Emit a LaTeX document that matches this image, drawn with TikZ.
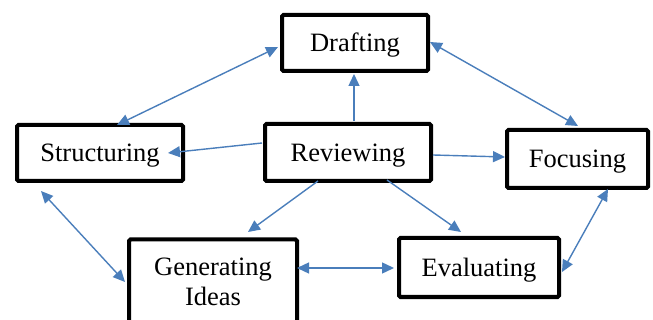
\documentclass[tikz,border=0pt]{standalone}
\usepackage{fontspec}
\setmainfont{Liberation Serif}
\usetikzlibrary{arrows.meta}
\definecolor{arrblue}{HTML}{4A7EBB}
\begin{document}
\begin{tikzpicture}[x=1pt,y=-1pt,
  stagebox/.style={draw=black, line width=4pt, rounded corners=1.5pt, fill=white,
    inner sep=0pt, font=\fontsize{26.5}{30}\selectfont, align=center},
  oneline/.style={text height=18pt, text depth=0pt},
  link/.style={draw=arrblue, line width=1.4pt, -{Triangle[length=12pt,width=11pt]}},
  dlink/.style={draw=arrblue, line width=1.4pt, {Triangle[length=12pt,width=11pt]}-{Triangle[length=12pt,width=11pt]}}]
\useasboundingbox (0,0) rectangle (653,320);
\clip (0,0) rectangle (653,320);
\node[stagebox, oneline, minimum width=146pt, minimum height=56pt] (draft) at (355,43) {Drafting};
\node[stagebox, oneline, minimum width=166pt, minimum height=56pt] (struct) at (100,153) {Structuring};
\node[stagebox, oneline, minimum width=166pt, minimum height=57pt] (review) at (348,152.5) {Reviewing};
\node[stagebox, oneline, minimum width=141pt, minimum height=58pt] (focus) at (577.5,159) {Focusing};
\node[stagebox, minimum width=168pt, minimum height=84pt] (gen) at (213,281.5) {Generating\\Ideas};
\node[stagebox, oneline, minimum width=160pt, minimum height=59pt] (eval) at (479,267.5) {Evaluating};
% double arrows
\draw[dlink] ([shift={(-77,4)}]draft.center) -- ([shift={(17,-28)}]struct.center);
\draw[dlink] ([shift={(75,-1)}]draft.center) -- ([shift={(0.5,-33)}]focus.center);
\draw[dlink] ([shift={(-59,38)}]struct.center) -- ([shift={(-88,0.5)}]gen.center);
\draw[dlink] ([shift={(84,-13.5)}]gen.center) -- ([shift={(-85,0.5)}]eval.center);
\draw[dlink] ([shift={(83,4.5)}]eval.center) -- ([shift={(30.5,30)}]focus.center);
% single arrows from Reviewing
\draw[link] ([shift={(6,-31.5)}]review.center) -- ([shift={(-1,31)}]draft.center);
\draw[link] ([shift={(-86,-9.5)}]review.center) -- ([shift={(68,0)}]struct.center);
\draw[link] ([shift={(85,2.5)}]review.center) -- ([shift={(-72.5,-2)}]focus.center);
\draw[link] ([shift={(-30,28.5)}]review.center) -- ([shift={(35,-49.5)}]gen.center);
\draw[link] ([shift={(39,27.5)}]review.center) -- ([shift={(-18,-35.5)}]eval.center);
\end{tikzpicture}
\end{document}
